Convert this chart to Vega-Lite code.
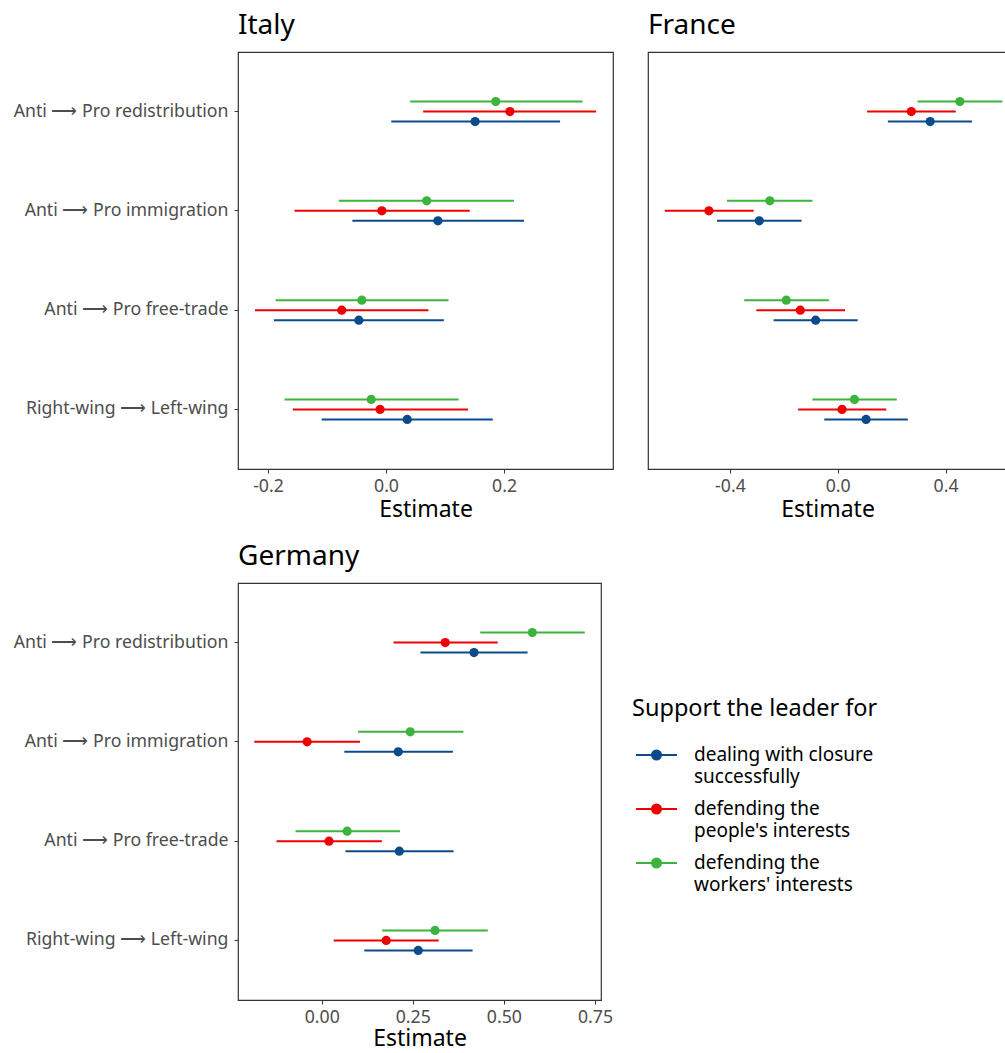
{
  "$schema": "https://vega.github.io/schema/vega-lite/v6.json",
  "padding": {"left": 5, "top": 11, "right": 0, "bottom": 0},
  "background": "white",
  "config": {
    "font": "Noto Sans",
    "view": {"stroke": "#333333", "strokeWidth": 1.2},
    "title": {"fontSize": 28, "fontWeight": "normal", "color": "black", "anchor": "start", "frame": "group", "offset": 11, "font": "Noto Sans"},
    "axis": {
      "grid": false, "labelFontSize": 17.7, "labelColor": "#4d4d4d", "titleFontSize": 23, "titleFontWeight": "normal", "titleColor": "black",
      "tickColor": "#333333", "tickSize": 4, "domain": false, "labelPadding": 6, "labelLimit": 0, "labelFont": "Noto Sans", "titleFont": "Noto Sans"
    },
    "axisX": {"labelPadding": 4, "titlePadding": 4, "labelExpr": "replace(datum.label, '\u2212', '-')"},
    "legend": {"labelFont": "Noto Sans", "titleFont": "Noto Sans"}
  },
  "datasets": {
    "est": [
      {"country": "Italy", "outcome": "Anti ⟶ Pro redistribution", "group": "defending the workers' interests", "est": 0.186, "lo": 0.041, "hi": 0.333},
      {"country": "Italy", "outcome": "Anti ⟶ Pro redistribution", "group": "defending the people's interests", "est": 0.210, "lo": 0.063, "hi": 0.356},
      {"country": "Italy", "outcome": "Anti ⟶ Pro redistribution", "group": "dealing with closure successfully", "est": 0.151, "lo": 0.009, "hi": 0.295},
      {"country": "Italy", "outcome": "Anti ⟶ Pro immigration", "group": "defending the workers' interests", "est": 0.069, "lo": -0.080, "hi": 0.217},
      {"country": "Italy", "outcome": "Anti ⟶ Pro immigration", "group": "defending the people's interests", "est": -0.007, "lo": -0.155, "hi": 0.142},
      {"country": "Italy", "outcome": "Anti ⟶ Pro immigration", "group": "dealing with closure successfully", "est": 0.088, "lo": -0.057, "hi": 0.234},
      {"country": "Italy", "outcome": "Anti ⟶ Pro free-trade", "group": "defending the workers' interests", "est": -0.041, "lo": -0.187, "hi": 0.106},
      {"country": "Italy", "outcome": "Anti ⟶ Pro free-trade", "group": "defending the people's interests", "est": -0.075, "lo": -0.222, "hi": 0.072},
      {"country": "Italy", "outcome": "Anti ⟶ Pro free-trade", "group": "dealing with closure successfully", "est": -0.046, "lo": -0.190, "hi": 0.098},
      {"country": "Italy", "outcome": "Right-wing ⟶ Left-wing", "group": "defending the workers' interests", "est": -0.025, "lo": -0.172, "hi": 0.123},
      {"country": "Italy", "outcome": "Right-wing ⟶ Left-wing", "group": "defending the people's interests", "est": -0.010, "lo": -0.158, "hi": 0.139},
      {"country": "Italy", "outcome": "Right-wing ⟶ Left-wing", "group": "dealing with closure successfully", "est": 0.036, "lo": -0.109, "hi": 0.181},
      {"country": "France", "outcome": "Anti ⟶ Pro redistribution", "group": "defending the workers' interests", "est": 0.453, "lo": 0.296, "hi": 0.611},
      {"country": "France", "outcome": "Anti ⟶ Pro redistribution", "group": "defending the people's interests", "est": 0.273, "lo": 0.109, "hi": 0.438},
      {"country": "France", "outcome": "Anti ⟶ Pro redistribution", "group": "dealing with closure successfully", "est": 0.343, "lo": 0.186, "hi": 0.498},
      {"country": "France", "outcome": "Anti ⟶ Pro immigration", "group": "defending the workers' interests", "est": -0.252, "lo": -0.411, "hi": -0.094},
      {"country": "France", "outcome": "Anti ⟶ Pro immigration", "group": "defending the people's interests", "est": -0.478, "lo": -0.642, "hi": -0.312},
      {"country": "France", "outcome": "Anti ⟶ Pro immigration", "group": "dealing with closure successfully", "est": -0.291, "lo": -0.448, "hi": -0.134},
      {"country": "France", "outcome": "Anti ⟶ Pro free-trade", "group": "defending the workers' interests", "est": -0.191, "lo": -0.347, "hi": -0.033},
      {"country": "France", "outcome": "Anti ⟶ Pro free-trade", "group": "defending the people's interests", "est": -0.139, "lo": -0.302, "hi": 0.027},
      {"country": "France", "outcome": "Anti ⟶ Pro free-trade", "group": "dealing with closure successfully", "est": -0.082, "lo": -0.238, "hi": 0.074},
      {"country": "France", "outcome": "Right-wing ⟶ Left-wing", "group": "defending the workers' interests", "est": 0.062, "lo": -0.094, "hi": 0.219},
      {"country": "France", "outcome": "Right-wing ⟶ Left-wing", "group": "defending the people's interests", "est": 0.016, "lo": -0.147, "hi": 0.180},
      {"country": "France", "outcome": "Right-wing ⟶ Left-wing", "group": "dealing with closure successfully", "est": 0.105, "lo": -0.050, "hi": 0.260},
      {"country": "Germany", "outcome": "Anti ⟶ Pro redistribution", "group": "defending the workers' interests", "est": 0.578, "lo": 0.435, "hi": 0.722},
      {"country": "Germany", "outcome": "Anti ⟶ Pro redistribution", "group": "defending the people's interests", "est": 0.339, "lo": 0.197, "hi": 0.483},
      {"country": "Germany", "outcome": "Anti ⟶ Pro redistribution", "group": "dealing with closure successfully", "est": 0.418, "lo": 0.271, "hi": 0.565},
      {"country": "Germany", "outcome": "Anti ⟶ Pro immigration", "group": "defending the workers' interests", "est": 0.243, "lo": 0.100, "hi": 0.389},
      {"country": "Germany", "outcome": "Anti ⟶ Pro immigration", "group": "defending the people's interests", "est": -0.040, "lo": -0.185, "hi": 0.105},
      {"country": "Germany", "outcome": "Anti ⟶ Pro immigration", "group": "dealing with closure successfully", "est": 0.210, "lo": 0.062, "hi": 0.360},
      {"country": "Germany", "outcome": "Anti ⟶ Pro free-trade", "group": "defending the workers' interests", "est": 0.070, "lo": -0.072, "hi": 0.215},
      {"country": "Germany", "outcome": "Anti ⟶ Pro free-trade", "group": "defending the people's interests", "est": 0.020, "lo": -0.124, "hi": 0.165},
      {"country": "Germany", "outcome": "Anti ⟶ Pro free-trade", "group": "dealing with closure successfully", "est": 0.213, "lo": 0.065, "hi": 0.362},
      {"country": "Germany", "outcome": "Right-wing ⟶ Left-wing", "group": "defending the workers' interests", "est": 0.311, "lo": 0.166, "hi": 0.456},
      {"country": "Germany", "outcome": "Right-wing ⟶ Left-wing", "group": "defending the people's interests", "est": 0.177, "lo": 0.033, "hi": 0.321},
      {"country": "Germany", "outcome": "Right-wing ⟶ Left-wing", "group": "dealing with closure successfully", "est": 0.265, "lo": 0.117, "hi": 0.414}
    ],
    "zero": [{"z": 0}]
  },
  "resolve": {"legend": {"color": "independent"}},
  "vconcat": [
    {
      "hconcat": [
        {
          "title": "Italy",
          "width": 375, "height": 417,
          "layer": [
            {
              "data": {"name": "zero"},
              "mark": {"type": "rule", "strokeDash": [7, 5], "strokeWidth": 1.1},
              "encoding": {"x": {"field": "z", "type": "quantitative"}, "color": {"value": "#333333"}}
            },
            {
              "data": {"name": "est"},
              "transform": [{"filter": "datum.country === 'Italy'"}],
              "mark": {"type": "rule", "strokeWidth": 2},
              "encoding": {"x": {"field": "lo", "type": "quantitative"}, "x2": {"field": "hi"}}
            },
            {
              "data": {"name": "est"},
              "transform": [{"filter": "datum.country === 'Italy'"}],
              "mark": {"type": "point", "filled": true, "opacity": 1, "size": 85},
              "encoding": {"x": {"field": "est", "type": "quantitative"}}
            }
          ],
          "encoding": {
            "x": {"type": "quantitative", "title": "Estimate", "scale": {"domain": [-0.2508, 0.3847], "nice": false, "zero": false},
                  "axis": {"values": [-0.2, 0, 0.2], "format": ".1f"}},
            "y": {"field": "outcome", "type": "nominal", "title": null,
                  "scale": {"domain": ["Anti ⟶ Pro redistribution", "Anti ⟶ Pro immigration", "Anti ⟶ Pro free-trade", "Right-wing ⟶ Left-wing"], "paddingInner": 0, "paddingOuter": 0.1},
                  "axis": {"minExtent": 232, "maxExtent": 232}},
            "yOffset": {"field": "group", "type": "nominal", "scale": {"domain": ["_1", "_2", "_3", "defending the workers' interests", "defending the people's interests", "dealing with closure successfully", "_4", "_5", "_6"], "paddingInner": 0, "paddingOuter": 0.465}},
            "color": {"field": "group", "type": "nominal", "legend": null, "scale": {"domain": ["dealing with closure successfully", "defending the people's interests", "defending the workers' interests"], "range": ["#0B4A8B", "#EE0000", "#3CB43C"]}}
          }
        },
        {
          "title": "France",
          "width": 359, "height": 417,
          "layer": [
            {
              "data": {"name": "zero"},
              "mark": {"type": "rule", "strokeDash": [7, 5], "strokeWidth": 1.1},
              "encoding": {"x": {"field": "z", "type": "quantitative"}, "color": {"value": "#333333"}}
            },
            {
              "data": {"name": "est"},
              "transform": [{"filter": "datum.country === 'France'"}],
              "mark": {"type": "rule", "strokeWidth": 2},
              "encoding": {"x": {"field": "lo", "type": "quantitative"}, "x2": {"field": "hi"}}
            },
            {
              "data": {"name": "est"},
              "transform": [{"filter": "datum.country === 'France'"}],
              "mark": {"type": "point", "filled": true, "opacity": 1, "size": 85},
              "encoding": {"x": {"field": "est", "type": "quantitative"}}
            }
          ],
          "encoding": {
            "x": {"type": "quantitative", "title": "Estimate", "scale": {"domain": [-0.704, 0.628], "nice": false, "zero": false},
                  "axis": {"values": [-0.4, 0, 0.4], "format": ".1f"}},
            "y": {"field": "outcome", "type": "nominal", "title": null,
                  "scale": {"domain": ["Anti ⟶ Pro redistribution", "Anti ⟶ Pro immigration", "Anti ⟶ Pro free-trade", "Right-wing ⟶ Left-wing"], "paddingInner": 0, "paddingOuter": 0.1},
                  "axis": null},
            "yOffset": {"field": "group", "type": "nominal", "scale": {"domain": ["_1", "_2", "_3", "defending the workers' interests", "defending the people's interests", "dealing with closure successfully", "_4", "_5", "_6"], "paddingInner": 0, "paddingOuter": 0.465}},
            "color": {"field": "group", "type": "nominal", "legend": null}
          }
        }
      ],
      "spacing": 33
    },
    {
      "title": "Germany",
      "width": 363, "height": 417,
      "layer": [
        {
          "data": {"name": "zero"},
          "mark": {"type": "rule", "strokeDash": [7, 5], "strokeWidth": 1.1},
          "encoding": {"x": {"field": "z", "type": "quantitative"}, "color": {"value": "#333333"}}
        },
        {
          "data": {"name": "est"},
          "transform": [{"filter": "datum.country === 'Germany'"}],
          "mark": {"type": "rule", "strokeWidth": 2},
          "encoding": {"x": {"field": "lo", "type": "quantitative"}, "x2": {"field": "hi"}}
        },
        {
          "data": {"name": "est"},
          "transform": [{"filter": "datum.country === 'Germany'"}],
          "mark": {"type": "point", "filled": true, "opacity": 1, "size": 85},
          "encoding": {"x": {"field": "est", "type": "quantitative"}}
        }
      ],
      "encoding": {
        "x": {"type": "quantitative", "title": "Estimate", "scale": {"domain": [-0.2297, 0.7665], "nice": false, "zero": false},
              "axis": {"values": [0, 0.25, 0.5, 0.75], "format": ".2f", "titlePadding": 2}},
        "y": {"field": "outcome", "type": "nominal", "title": null,
              "scale": {"domain": ["Anti ⟶ Pro redistribution", "Anti ⟶ Pro immigration", "Anti ⟶ Pro free-trade", "Right-wing ⟶ Left-wing"], "paddingInner": 0, "paddingOuter": 0.1},
              "axis": {"minExtent": 232, "maxExtent": 232}},
        "yOffset": {"field": "group", "type": "nominal", "scale": {"domain": ["_1", "_2", "_3", "defending the workers' interests", "defending the people's interests", "dealing with closure successfully", "_4", "_5", "_6"], "paddingInner": 0, "paddingOuter": 0.465}},
        "color": {"field": "group", "type": "nominal",
          "legend": {
            "orient": "none", "legendX": 394, "legendY": 114,
            "title": "Support the leader for", "titleFontSize": 23.5, "titleFontWeight": "normal", "titleColor": "black", "titlePadding": 13, "titleLimit": 0,
            "labelFontSize": 19, "labelColor": "black", "labelLimit": 0, "rowPadding": -2, "symbolOffset": 3,
            "symbolType": "M-1,0L1,0M-0.22,0A0.22,0.22 0 1,0 0.22,0A0.22,0.22 0 1,0 -0.22,0Z",
            "symbolSize": 1681, "symbolStrokeWidth": 2, "labelOffset": 16,
            "labelExpr": "datum.label === 'dealing with closure successfully' ? ['dealing with closure', 'successfully'] : datum.label === \"defending the people's interests\" ? ['defending the', \"people's interests\"] : ['defending the', \"workers' interests\"]",
            "encode": {
              "symbols": {"update": {"stroke": {"scale": "color", "field": "value"}, "fill": {"scale": "color", "field": "value"}, "fillOpacity": {"value": 1}, "opacity": {"value": 1}}},
              "labels": {"update": {"lineHeight": {"value": 22}}}
            }
          }}
      }
    }
  ],
  "spacing": 19
}
